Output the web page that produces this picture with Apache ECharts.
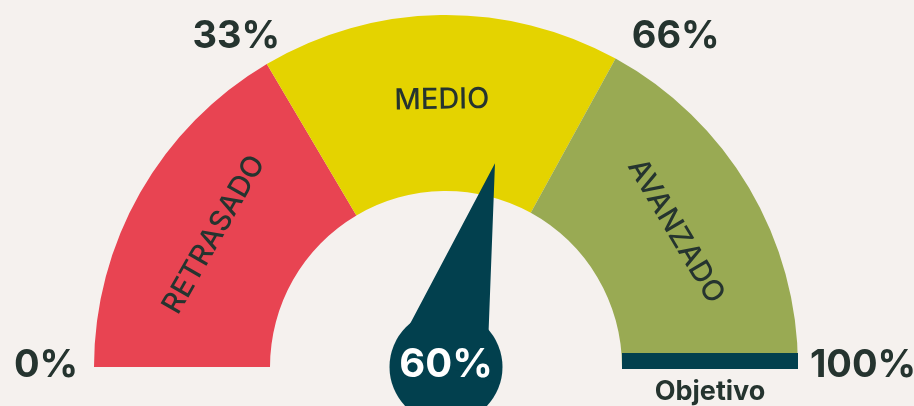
<!DOCTYPE html>
<html><head><meta charset="utf-8">
<script src="https://cdn.jsdelivr.net/npm/echarts@6/dist/echarts.min.js"></script>
<style>html,body{margin:0;padding:0;background:#F5F1EE}#c{width:914px;height:406px}</style>
</head><body><div id="c"></div>
<script>
// ---- data ----
const segmentNames = ['RETRASADO', 'MEDIO', 'AVANZADO'];
const segmentBounds = [0, 33, 66, 100];
const tickLabels = [0, 33, 66, 100];
const currentValue = 60;
const objectiveValue = 100;
const objectiveLabel = 'Objetivo';

// ---- style ----
const segmentColors = ['#E84452', '#E4D300', '#99AA53'];
const TEAL = '#02404E', INK = '#25342F', FONT = 'Inter, Lato, sans-serif';
const CX = 446, CY = 367, R_OUT = 352, R_IN = 176;

const pieData = segmentNames.map((n, i) => ({
  name: n, value: segmentBounds[i + 1] - segmentBounds[i],
  itemStyle: { color: segmentColors[i] }
}));
pieData.push({ name: '', value: segmentBounds[3] - segmentBounds[0],
  itemStyle: { color: 'rgba(0,0,0,0)' }, label: { show: false } });

// nudges of the tick labels (style only)
const labelShift = { 0: [0, -1], 33: [-6, 14], 66: [37, 20], 100: [17, -1] };
const rich = {};
tickLabels.forEach((t, i) => {
  const s = labelShift[t] || [0, 0];
  const dx = s[0], dy = s[1];
  rich['t' + i] = {
    fontFamily: FONT, fontSize: 38, fontWeight: 'bold', color: INK,
    padding: [Math.max(0, 2 * dy), Math.max(0, -2 * dx), Math.max(0, -2 * dy), Math.max(0, 2 * dx)]
  };
});

const needlePath = 'path://M-16.4 -209 L42.8 0 L52.8 0 L-52.8 0 Z';

const baseGauge = {
  type: 'gauge', center: [CX, CY], radius: R_OUT, startAngle: 180, endAngle: 0,
  min: 0, max: 100,
  axisLine: { show: false, lineStyle: { width: 0 } },
  splitLine: { show: false, length: 0, distance: 0 },
  axisTick: { show: false }, axisLabel: { show: false },
  pointer: { show: false }, anchor: { show: false },
  title: { show: false }, detail: { show: false }
};

const chart = echarts.init(document.getElementById('c'));
chart.setOption({
  backgroundColor: '#F5F1EE',
  animation: false,
  series: [
    {
      type: 'pie', z: 1, center: [CX, CY], radius: [R_IN, R_OUT], startAngle: 180, clockwise: true,
      silent: true, avoidLabelOverlap: false,
      label: { show: true, position: 'inside', rotate: 'tangential', formatter: '{b}',
        fontFamily: FONT, fontSize: 29, fontWeight: 500, color: INK },
      labelLine: { show: false },
      emphasis: { disabled: true },
      itemStyle: { borderWidth: 0 },
      data: pieData
    },
    Object.assign({}, baseGauge, {
      z: 5, splitNumber: 100,
      axisLabel: {
        show: true, distance: -48, rotate: 0.0001, rich: rich,
        formatter: function (v) {
          const i = tickLabels.indexOf(Math.round(v));
          return i < 0 ? '' : '{t' + i + '|' + tickLabels[i] + '%}';
        }
      },
      pointer: { show: true, icon: needlePath, length: 209, width: 105.6, offsetCenter: [0, 0],
        itemStyle: { color: TEAL } },
      anchor: { show: true, showAbove: false, size: 113, itemStyle: { color: TEAL } },
      data: [{ value: currentValue }]
    }),
    Object.assign({}, baseGauge, {
      z: 4,
      pointer: { show: true, icon: 'rect', length: R_OUT - R_IN, width: 16, offsetCenter: [-6, -R_IN],
        itemStyle: { color: TEAL } },
      title: { show: true, offsetCenter: [264, 25], fontSize: 27, fontWeight: 'bold',
        fontFamily: FONT, color: INK },
      data: [{ value: objectiveValue, name: objectiveLabel }]
    }),
    Object.assign({}, baseGauge, {
      z: 10,
      detail: { show: true, offsetCenter: [0, -2], formatter: '{value}%', color: '#FFFFFF',
        fontSize: 40, fontWeight: 'bold', fontFamily: FONT },
      data: [{ value: currentValue }]
    })
  ]
});
</script></body></html>
